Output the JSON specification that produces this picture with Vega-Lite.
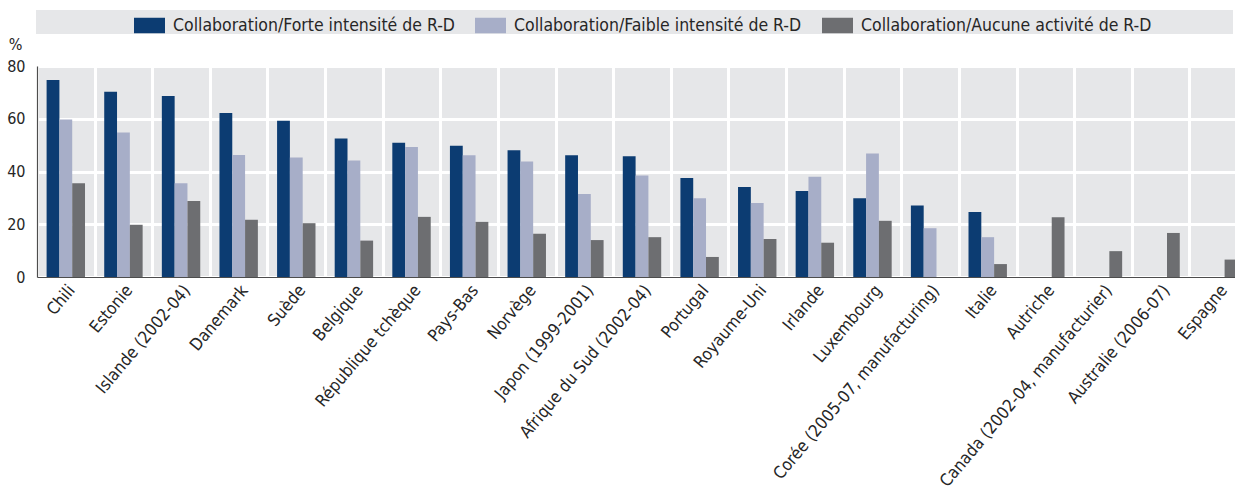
{
  "$schema": "https://vega.github.io/schema/vega-lite/v6.json",
  "autosize": {"type": "none"},
  "padding": {"left": 37, "top": 66, "right": 0, "bottom": 215},
  "width": 1210,
  "height": 211,
  "background": "white",
  "config": {
    "font": "DejaVu Sans Condensed",
    "view": {"fill": "#e6e7e9", "stroke": null},
    "axis": {"labelFont": "DejaVu Sans Condensed", "titleFont": "DejaVu Sans Condensed"},
    "legend": {"labelFont": "DejaVu Sans Condensed", "titleFont": "DejaVu Sans Condensed"}
  },
  "data": {
    "values": [
      {"pays": "Chili", "serie": "Collaboration/Forte intensité de R-D", "valeur": 74.7},
      {"pays": "Chili", "serie": "Collaboration/Faible intensité de R-D", "valeur": 59.7},
      {"pays": "Chili", "serie": "Collaboration/Aucune activité de R-D", "valeur": 35.5},
      {"pays": "Estonie", "serie": "Collaboration/Forte intensité de R-D", "valeur": 70.2},
      {"pays": "Estonie", "serie": "Collaboration/Faible intensité de R-D", "valeur": 54.8},
      {"pays": "Estonie", "serie": "Collaboration/Aucune activité de R-D", "valeur": 19.8},
      {"pays": "Islande (2002-04)", "serie": "Collaboration/Forte intensité de R-D", "valeur": 68.6},
      {"pays": "Islande (2002-04)", "serie": "Collaboration/Faible intensité de R-D", "valeur": 35.5},
      {"pays": "Islande (2002-04)", "serie": "Collaboration/Aucune activité de R-D", "valeur": 28.8},
      {"pays": "Danemark", "serie": "Collaboration/Forte intensité de R-D", "valeur": 62.2},
      {"pays": "Danemark", "serie": "Collaboration/Faible intensité de R-D", "valeur": 46.3},
      {"pays": "Danemark", "serie": "Collaboration/Aucune activité de R-D", "valeur": 21.7},
      {"pays": "Suède", "serie": "Collaboration/Forte intensité de R-D", "valeur": 59.2},
      {"pays": "Suède", "serie": "Collaboration/Faible intensité de R-D", "valeur": 45.3},
      {"pays": "Suède", "serie": "Collaboration/Aucune activité de R-D", "valeur": 20.4},
      {"pays": "Belgique", "serie": "Collaboration/Forte intensité de R-D", "valeur": 52.5},
      {"pays": "Belgique", "serie": "Collaboration/Faible intensité de R-D", "valeur": 44.2},
      {"pays": "Belgique", "serie": "Collaboration/Aucune activité de R-D", "valeur": 13.8},
      {"pays": "République tchèque", "serie": "Collaboration/Forte intensité de R-D", "valeur": 50.9},
      {"pays": "République tchèque", "serie": "Collaboration/Faible intensité de R-D", "valeur": 49.3},
      {"pays": "République tchèque", "serie": "Collaboration/Aucune activité de R-D", "valeur": 22.8},
      {"pays": "Pays-Bas", "serie": "Collaboration/Forte intensité de R-D", "valeur": 49.8},
      {"pays": "Pays-Bas", "serie": "Collaboration/Faible intensité de R-D", "valeur": 46.2},
      {"pays": "Pays-Bas", "serie": "Collaboration/Aucune activité de R-D", "valeur": 20.9},
      {"pays": "Norvège", "serie": "Collaboration/Forte intensité de R-D", "valeur": 48.1},
      {"pays": "Norvège", "serie": "Collaboration/Faible intensité de R-D", "valeur": 43.8},
      {"pays": "Norvège", "serie": "Collaboration/Aucune activité de R-D", "valeur": 16.4},
      {"pays": "Japon (1999-2001)", "serie": "Collaboration/Forte intensité de R-D", "valeur": 46.2},
      {"pays": "Japon (1999-2001)", "serie": "Collaboration/Faible intensité de R-D", "valeur": 31.5},
      {"pays": "Japon (1999-2001)", "serie": "Collaboration/Aucune activité de R-D", "valeur": 14.0},
      {"pays": "Afrique du Sud (2002-04)", "serie": "Collaboration/Forte intensité de R-D", "valeur": 45.8},
      {"pays": "Afrique du Sud (2002-04)", "serie": "Collaboration/Faible intensité de R-D", "valeur": 38.5},
      {"pays": "Afrique du Sud (2002-04)", "serie": "Collaboration/Aucune activité de R-D", "valeur": 15.1},
      {"pays": "Portugal", "serie": "Collaboration/Forte intensité de R-D", "valeur": 37.5},
      {"pays": "Portugal", "serie": "Collaboration/Faible intensité de R-D", "valeur": 29.9},
      {"pays": "Portugal", "serie": "Collaboration/Aucune activité de R-D", "valeur": 7.6},
      {"pays": "Royaume-Uni", "serie": "Collaboration/Forte intensité de R-D", "valeur": 34.1},
      {"pays": "Royaume-Uni", "serie": "Collaboration/Faible intensité de R-D", "valeur": 28.1},
      {"pays": "Royaume-Uni", "serie": "Collaboration/Aucune activité de R-D", "valeur": 14.4},
      {"pays": "Irlande", "serie": "Collaboration/Forte intensité de R-D", "valeur": 32.6},
      {"pays": "Irlande", "serie": "Collaboration/Faible intensité de R-D", "valeur": 38.0},
      {"pays": "Irlande", "serie": "Collaboration/Aucune activité de R-D", "valeur": 13.0},
      {"pays": "Luxembourg", "serie": "Collaboration/Forte intensité de R-D", "valeur": 29.9},
      {"pays": "Luxembourg", "serie": "Collaboration/Faible intensité de R-D", "valeur": 46.8},
      {"pays": "Luxembourg", "serie": "Collaboration/Aucune activité de R-D", "valeur": 21.3},
      {"pays": "Corée (2005-07, manufacturing)", "serie": "Collaboration/Forte intensité de R-D", "valeur": 27.1},
      {"pays": "Corée (2005-07, manufacturing)", "serie": "Collaboration/Faible intensité de R-D", "valeur": 18.5},
      {"pays": "Italie", "serie": "Collaboration/Forte intensité de R-D", "valeur": 24.6},
      {"pays": "Italie", "serie": "Collaboration/Faible intensité de R-D", "valeur": 15.1},
      {"pays": "Italie", "serie": "Collaboration/Aucune activité de R-D", "valeur": 4.9},
      {"pays": "Autriche", "serie": "Collaboration/Aucune activité de R-D", "valeur": 22.7},
      {"pays": "Canada (2002-04, manufacturier)", "serie": "Collaboration/Aucune activité de R-D", "valeur": 9.8},
      {"pays": "Australie (2006-07)", "serie": "Collaboration/Aucune activité de R-D", "valeur": 16.7},
      {"pays": "Espagne", "serie": "Collaboration/Aucune activité de R-D", "valeur": 6.6}
    ]
  },
  "layer": [
    {
      "mark": {"type": "rule", "opacity": 0},
      "encoding": {
        "x": {
          "field": "pays", "type": "nominal", "sort": null,
          "scale": {"paddingInner": 0.3333, "paddingOuter": 0.1667},
          "axis": {"orient": "top", "title": null, "grid": true, "labels": false, "ticks": false, "domain": false,
                   "bandPosition": 0, "tickOffset": -9.6, "gridColor": "white", "gridWidth": 3, "gridOpacity": 1}
        }
      }
    },
    {
      "mark": {"type": "bar"},
      "encoding": {
        "x": {
          "field": "pays", "type": "nominal", "sort": null,
          "axis": {"orient": "bottom", "title": null, "grid": false, "ticks": false, "domain": true, "domainColor": "#4d4d4d", "domainWidth": 1.2,
                   "labelAngle": -50, "labelAlign": "right", "labelBaseline": "top", "labelFontSize": 17, "labelColor": "#262626", "labelPadding": 5, "labelLimit": 400}
        },
        "xOffset": {"field": "serie", "type": "nominal", "sort": ["Collaboration/Forte intensité de R-D", "Collaboration/Faible intensité de R-D", "Collaboration/Aucune activité de R-D"]},
        "y": {
          "field": "valeur", "type": "quantitative",
          "scale": {"domain": [0, 80], "nice": false},
          "axis": {"values": [0, 20, 40, 60, 80], "title": "%", "titleAngle": 0, "titleX": -22, "titleY": -17, "titleAlign": "center", "titleBaseline": "alphabetic",
                   "titleFontSize": 16, "titleFontWeight": "normal", "titleColor": "#262626",
                   "grid": true, "gridColor": "white", "gridWidth": 3, "ticks": false, "tickSize": 0, "labelPadding": 12,
                   "labelFontSize": 16, "labelColor": "#262626", "domain": true, "domainColor": "#4d4d4d", "domainWidth": 1.2}
        },
        "color": {
          "field": "serie", "type": "nominal",
          "scale": {"domain": ["Collaboration/Forte intensité de R-D", "Collaboration/Faible intensité de R-D", "Collaboration/Aucune activité de R-D"],
                    "range": ["#0c3c72", "#a7aec8", "#6d6e71"]},
          "legend": {
            "orient": "none", "legendX": -1, "legendY": -56, "direction": "horizontal",
            "fillColor": "#e6e7e9", "padding": 0,
            "title": "\u00a0", "titleOrient": "left", "titlePadding": 98, "titleFontSize": 10,
            "symbolType": "M-1,-0.5H1V0.5H-1Z", "symbolSize": 961, "symbolStrokeWidth": 0, "symbolOpacity": 1,
            "labelFontSize": 17.5, "labelColor": "#262626", "labelOffset": 8, "labelLimit": 2000, "columnPadding": 20,
            "labelExpr": "datum.label == 'Collaboration/Aucune activité de R-D' ? datum.label + '\u00a0\u00a0\u00a0\u00a0\u00a0\u00a0\u00a0\u00a0\u00a0\u00a0\u00a0\u00a0\u00a0\u00a0\u2800' : datum.label"
          }
        }
      }
    }
  ],
  "resolve": {"axis": {"x": "independent"}}
}
